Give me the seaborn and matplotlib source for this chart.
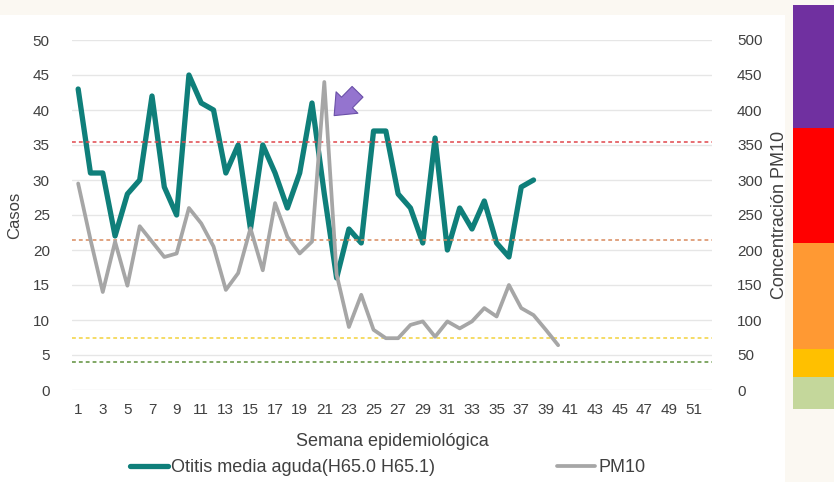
import numpy as np
import pandas as pd
import matplotlib
matplotlib.use('Agg')
import matplotlib.pyplot as plt
from matplotlib.patches import Rectangle
import seaborn as sns

sns.set_style('white')
plt.rcParams['font.family'] = ['Liberation Sans', 'DejaVu Sans']

# weekly cases (left axis) and PM10 concentration (right axis)
otitis = [43, 31, 31, 22, 28, 30, 42, 29, 25, 45, 41, 40, 31, 35, 23, 35, 31, 26, 31, 41,
          28, 16, 23, 21, 37, 37, 28, 26, 21, 36, 20, 26, 23, 27, 21, 19, 29, 30]
pm10 = [295, 215, 140, 212, 149, 234, 212, 190, 195, 260, 238, 205, 143, 167, 231, 171, 267,
        219, 195, 212, 440, 165, 90, 136, 86, 74, 74, 93, 98, 76, 98, 88, 98, 117, 105, 150,
        117, 107, 86, 64]
weeks = list(range(1, 53))
tick_weeks = list(range(1, 52, 2))
left_ticks = [0, 5, 10, 15, 20, 25, 30, 35, 40, 45, 50]
right_ticks = [0, 50, 100, 150, 200, 250, 300, 350, 400, 450, 500]
# PM10 index limits and their colours
limits = [354, 214, 75, 40]
limit_colors = ['#e0474c', '#d98a5e', '#f2d23c', '#5e8f3a']

df_cases = pd.DataFrame({'week': weeks[:len(otitis)], 'cases': otitis})
df_pm = pd.DataFrame({'week': weeks[:len(pm10)], 'pm10': pm10})

fig = plt.figure(figsize=(8.34, 4.82), dpi=100)
fig.patch.set_facecolor('#fbf8f2')
# white slide area and the index colour strip on the right
fig.patches.append(Rectangle((0, 0), 785 / 834, 1 - 15 / 482, transform=fig.transFigure,
                             facecolor='white', edgecolor='none', zorder=-5))
strip = [('#7030a0', 5, 128), ('#ff0000', 128, 243), ('#ff9933', 243, 349),
         ('#ffc000', 349, 377), ('#c4d79b', 377, 409)]
for c, y0, y1 in strip:
    fig.patches.append(Rectangle((793 / 834, 1 - y1 / 482), 41 / 834, (y1 - y0) / 482,
                                 transform=fig.transFigure, facecolor=c, edgecolor='none', zorder=-4))

ax = fig.add_axes([72 / 834, 1 - 390 / 482, 640 / 834, 350 / 482])
ax.set_facecolor('none')
ax2 = ax.twinx()
ax2.set_facecolor('none')
ax.set_zorder(1)
ax2.set_zorder(2)

sns.lineplot(data=df_cases, x='week', y='cases', ax=ax, color='#0f7f7a', lw=3.8,
             label='Otitis media aguda(H65.0 H65.1)', legend=False, zorder=3)
ax.set_ylim(0, 50)
ax.set_xlim(0.5, 52.5)
ax.set_yticks(left_ticks)
ax.set_xticks(tick_weeks)
for y in left_ticks:
    ax.axhline(y, color='#e6e6e6', lw=1, zorder=0)

sns.lineplot(data=df_pm, x='week', y='pm10', ax=ax2, color='#a6a6a6', lw=2.7,
             label='PM10', legend=False, zorder=3)
for v, c in zip(limits, limit_colors):
    ax2.axhline(v, color=c, ls=(0, (2.5, 2)), lw=1.1, zorder=1)
ax2.set_ylim(0, 500)
ax2.set_yticks(right_ticks)

for a in (ax, ax2):
    for s in a.spines.values():
        s.set_visible(False)
    a.tick_params(length=0, labelsize=11, colors='#404040')
ax.tick_params(axis='y', pad=16)
ax.tick_params(axis='x', pad=9)
ax2.tick_params(axis='y', pad=18)

ax.set_ylabel('Casos', fontsize=12, color='#404040', labelpad=8)
ax.set_xlabel('Semana epidemiológica', fontsize=13, color='#404040', labelpad=12)
ax2.set_ylabel('Concentración PM10', fontsize=13, color='#404040', rotation=90, labelpad=6)

# arrow pointing at the week 21 spike
ax2.annotate('', xy=(21.8, 392), xytext=(23.7, 426),
             arrowprops=dict(arrowstyle='simple,head_length=0.6,head_width=1.0,tail_width=0.5',
                             mutation_scale=22, shrinkA=0, shrinkB=0,
                             facecolor='#9474cf', edgecolor='#6a4fa8', lw=0.8))

h1, l1 = ax.get_legend_handles_labels()
h2, l2 = ax2.get_legend_handles_labels()
fig.legend(h1 + h2, l1 + l2, loc='center left', bbox_to_anchor=(130 / 834, 1 - 468 / 482),
           ncol=2, frameon=False, fontsize=13, columnspacing=6.8, handlelength=2.1,
           handletextpad=0.15, borderpad=0, borderaxespad=0, labelcolor='#404040')

fig.savefig('out.png', dpi=100, facecolor=fig.get_facecolor())
